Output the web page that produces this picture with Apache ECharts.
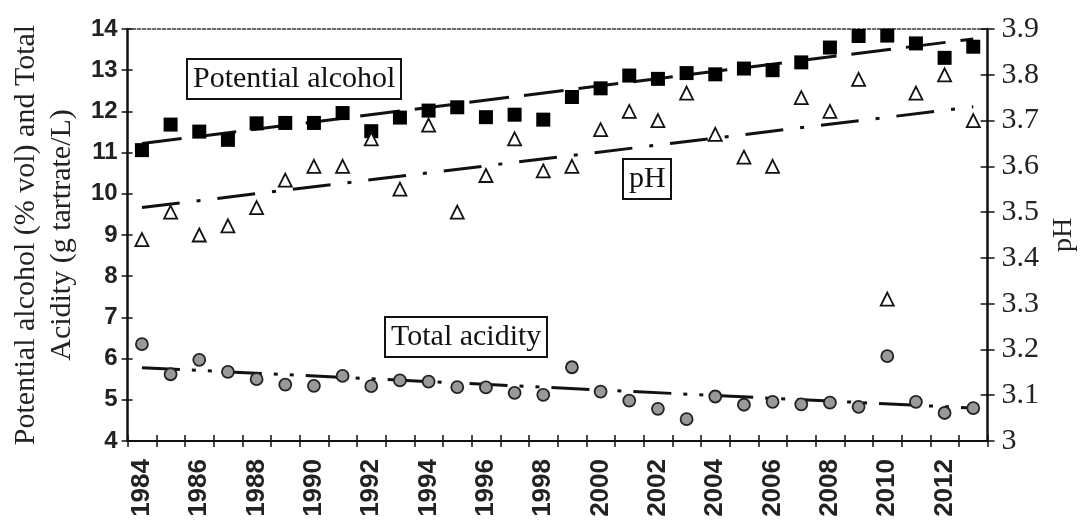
<!DOCTYPE html>
<html>
<head>
<meta charset="utf-8">
<script src="https://cdn.jsdelivr.net/npm/echarts@6/dist/echarts.min.js"></script>
<style>
html,body{margin:0;padding:0;background:#fff;}
#chart{width:1086px;height:521px;}
</style>
</head>
<body>
<div id="chart"></div>
<script>
// ---- data ----
const years = ['1984','1985','1986','1987','1988','1989','1990','1991','1992','1993','1994','1995','1996','1997','1998','1999','2000','2001','2002','2003','2004','2005','2006','2007','2008','2009','2010','2011','2012','2013'];
const potentialAlcohol = [11.06, 11.68, 11.51, 11.31, 11.71, 11.72, 11.72, 11.96, 11.52, 11.85, 12.02, 12.10, 11.86, 11.92, 11.80, 12.35, 12.56, 12.87, 12.79, 12.93, 12.90, 13.04, 13.00, 13.19, 13.55, 13.83, 13.84, 13.65, 13.30, 13.57];
const pH = [3.44, 3.50, 3.45, 3.47, 3.51, 3.57, 3.60, 3.60, 3.66, 3.55, 3.69, 3.50, 3.58, 3.66, 3.59, 3.60, 3.68, 3.72, 3.70, 3.76, 3.67, 3.62, 3.60, 3.75, 3.72, 3.79, 3.31, 3.76, 3.80, 3.70];
const totalAcidity = [6.35, 5.62, 5.97, 5.68, 5.50, 5.37, 5.34, 5.58, 5.33, 5.47, 5.44, 5.31, 5.30, 5.17, 5.12, 5.79, 5.20, 4.98, 4.78, 4.53, 5.08, 4.88, 4.95, 4.89, 4.93, 4.83, 6.06, 4.95, 4.68, 4.80];
// trend lines: value at first year, value at last year
const trendAlcohol = [11.22, 13.76];
const trendPH = [3.51, 3.73];
const trendAcidity = [5.78, 4.80];
const leftTitle = 'Potential alcohol (% vol) and Total\nAcidity (g tartrate/L)';
const rightTitle = 'pH';
const labelAlcohol = 'Potential alcohol';
const labelPH = 'pH';
const labelAcidity = 'Total acidity';

const firstYear = years[0], lastYear = years[years.length - 1];
const serif = 'Liberation Serif';
const sans = 'Liberation Sans';

const chart = echarts.init(document.getElementById('chart'), null, {renderer: 'canvas'});
const boxStyle = {
  borderColor: '#111', borderWidth: 2, padding: [3, 6, 3, 6],
  textStyle: {fontFamily: serif, fontSize: 30, fontWeight: 'normal', color: '#111', lineHeight: 34}
};
const option = {
  animation: false,
  backgroundColor: '#fff',
  title: [
    Object.assign({text: labelAlcohol, left: 187, top: 59}, boxStyle),
    Object.assign({text: labelPH, left: 623, top: 159}, boxStyle),
    Object.assign({text: labelAcidity, left: 385, top: 317}, boxStyle)
  ],
  grid: {left: 123, right: 89, top: 29, height: 412, containLabel: false},
  xAxis: [
    {
      type: 'category', data: years, position: 'bottom', boundaryGap: true,
      axisLine: {lineStyle: {color: '#111', width: 2}},
      axisTick: {show: true, interval: 0, length: 6, lineStyle: {color: '#111', width: 1.5}},
      axisLabel: {interval: 1, rotate: 90, margin: 18, fontFamily: sans, fontWeight: 'bold', fontSize: 26, color: '#222'},
      splitLine: {show: false}
    },
    {
      type: 'category', data: years, position: 'bottom', boundaryGap: true,
      axisLine: {show: false},
      axisTick: {show: true, inside: true, interval: 0, length: 6, lineStyle: {color: '#111', width: 1.5}},
      axisLabel: {show: false}, splitLine: {show: false}
    },
    {
      type: 'category', data: years, position: 'top', boundaryGap: true,
      axisLine: {show: true, lineStyle: {color: '#333', width: 1.5, type: [3, 2]}},
      axisTick: {show: false}, axisLabel: {show: false}, splitLine: {show: false}
    }
  ],
  yAxis: [
    {
      type: 'value', min: 4, max: 14, interval: 1, position: 'left',
      name: leftTitle, nameLocation: 'middle', nameGap: 44,
      nameTextStyle: {fontFamily: serif, fontSize: 30, color: '#222', lineHeight: 36},
      axisLine: {show: true, lineStyle: {color: '#111', width: 2.5}},
      axisTick: {show: true, length: 6, lineStyle: {color: '#111', width: 1.5}},
      axisLabel: {margin: 10, fontFamily: sans, fontWeight: 'bold', fontSize: 24, color: '#222'},
      splitLine: {show: false}
    },
    {
      type: 'value', min: 3, max: 3.9, interval: 0.1, position: 'right',
      name: rightTitle, nameLocation: 'middle', nameGap: 60,
      nameTextStyle: {fontFamily: serif, fontSize: 28, color: '#222'},
      axisLine: {show: true, lineStyle: {color: '#111', width: 2.5}},
      axisTick: {show: true, length: 7, lineStyle: {color: '#111', width: 1.5}},
      axisLabel: {margin: 14, fontFamily: serif, fontSize: 30, color: '#222'},
      splitLine: {show: false}
    },
    {
      type: 'value', min: 4, max: 14, interval: 1, position: 'left',
      axisLine: {show: false},
      axisTick: {show: true, inside: true, length: 5, lineStyle: {color: '#111', width: 1.5}},
      axisLabel: {show: false}, splitLine: {show: false}
    },
    {
      type: 'value', min: 3, max: 3.9, interval: 0.1, position: 'right',
      axisLine: {show: false},
      axisTick: {show: true, inside: true, length: 7, lineStyle: {color: '#111', width: 1.5}},
      axisLabel: {show: false}, splitLine: {show: false}
    }
  ],
  series: [
    {
      name: 'Potential alcohol trend', type: 'line', yAxisIndex: 0, symbol: 'none', z: 1,
      data: [[firstYear, trendAlcohol[0]], [lastYear, trendAlcohol[1]]],
      lineStyle: {color: '#111', width: 3, type: [40, 15]}
    },
    {
      name: 'pH trend', type: 'line', yAxisIndex: 1, symbol: 'none', z: 1,
      data: [[firstYear, trendPH[0]], [lastYear, trendPH[1]]],
      lineStyle: {color: '#111', width: 3, type: [38, 17, 4, 17]}
    },
    {
      name: 'Total acidity trend', type: 'line', yAxisIndex: 0, symbol: 'none', z: 1,
      data: [[firstYear, trendAcidity[0]], [lastYear, trendAcidity[1]]],
      lineStyle: {color: '#111', width: 3, type: [38, 12, 4, 12, 4, 12]}
    },
    {
      name: 'Potential alcohol', type: 'scatter', yAxisIndex: 0, z: 3,
      symbol: 'rect', symbolSize: 14,
      data: potentialAlcohol,
      itemStyle: {color: '#000', opacity: 1}
    },
    {
      name: 'pH', type: 'scatter', yAxisIndex: 1, z: 3,
      symbol: 'triangle', symbolSize: 13,
      data: pH,
      itemStyle: {color: '#fff', borderColor: '#111', borderWidth: 1.8, opacity: 1}
    },
    {
      name: 'Total acidity', type: 'scatter', yAxisIndex: 0, z: 3,
      symbol: 'circle', symbolSize: 12,
      data: totalAcidity,
      itemStyle: {color: '#999', borderColor: '#222', borderWidth: 1.8, opacity: 1}
    }
  ]
};
chart.setOption(option);
</script>
</body>
</html>
